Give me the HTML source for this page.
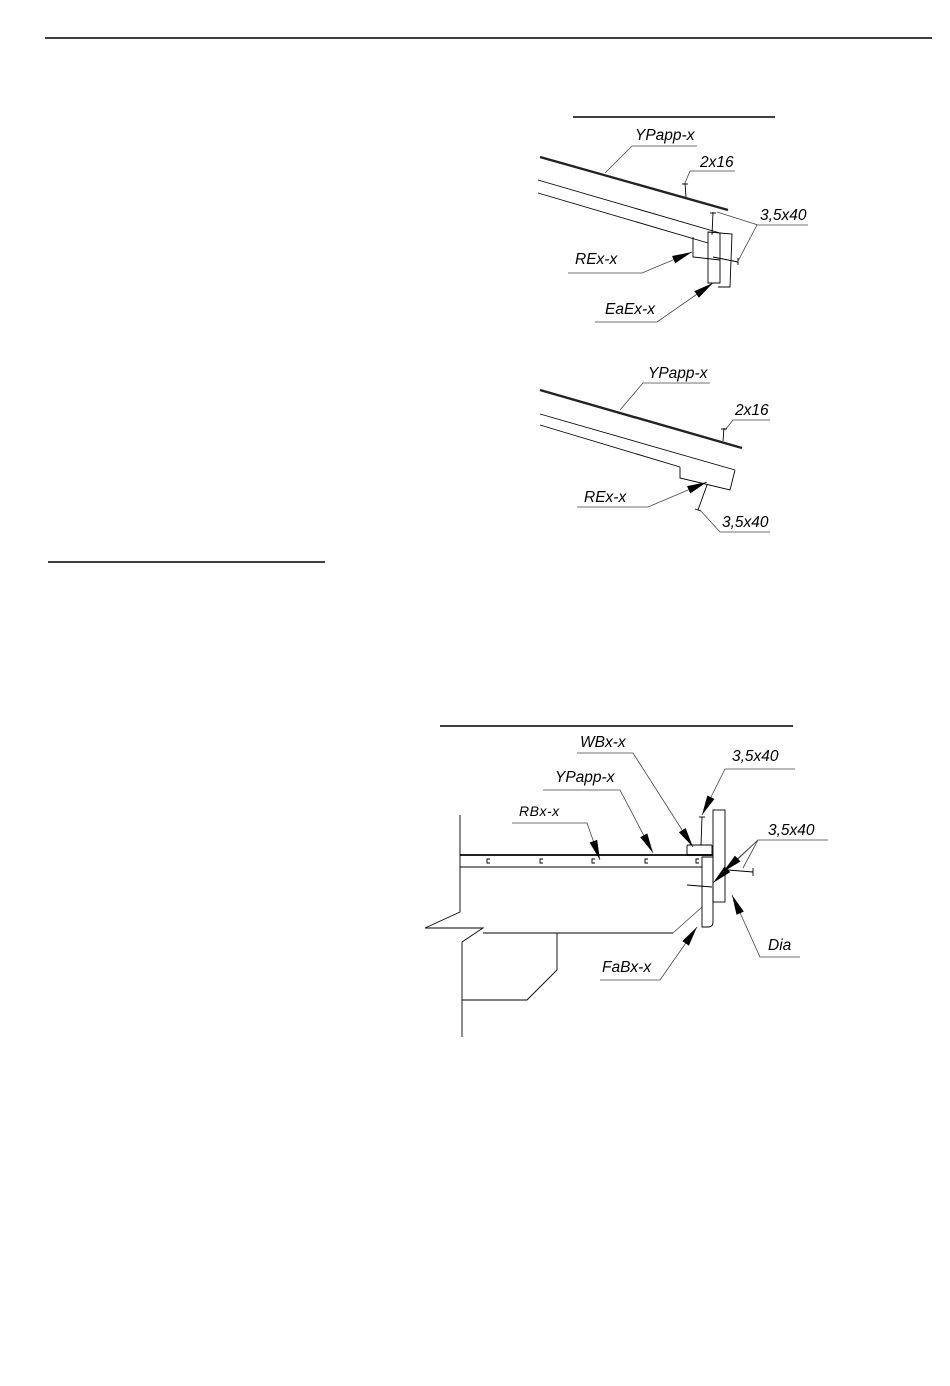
<!DOCTYPE html>
<html><head><meta charset="utf-8"><style>
html,body{margin:0;padding:0;background:#fff}
svg{display:block}
text{font-family:"Liberation Sans",sans-serif;font-style:italic;font-size:15.5px;fill:#000}
.l{stroke:#444;stroke-width:0.8;fill:none}
.k{stroke:#000;stroke-width:0.9;fill:none}
</style></head><body>
<svg width="950" height="1386" viewBox="0 0 950 1386" xmlns="http://www.w3.org/2000/svg">
<defs>
<marker id="a" markerWidth="22" markerHeight="10" refX="20" refY="5" orient="auto" markerUnits="userSpaceOnUse">
<path d="M0,1 L20,5 L0,9 Z" fill="#000"/>
</marker>
</defs>
<line x1="45" y1="38" x2="932" y2="38" stroke="#000" stroke-width="1.6"/>

<!-- Top detail 1 -->
<line x1="573" y1="117" x2="775" y2="117" stroke="#000" stroke-width="1.5"/>
<line x1="540" y1="157" x2="728" y2="210" stroke="#222" stroke-width="2.4"/>
<line x1="538" y1="180" x2="720" y2="233" class="k"/>
<line x1="538" y1="193" x2="708" y2="243" class="k"/>
<path d="M693,237 L693,257 L720,260" class="k"/>
<path d="M708,232 L720,233 L720,283 L708,283 Z" class="k"/>
<path d="M720,233 L732,234 L730,287 L718,287" class="k"/>
<line x1="717" y1="212" x2="758" y2="225" class="l"/>
<line x1="713" y1="212" x2="712" y2="235" class="k"/>
<line x1="710" y1="213" x2="716" y2="213" class="k"/>
<line x1="713" y1="257" x2="738" y2="262" class="k"/>
<line x1="738" y1="258" x2="738" y2="265" class="k"/>
<line x1="685" y1="183" x2="686" y2="197" class="k"/>
<line x1="682" y1="184" x2="688" y2="184" class="k"/>
<text x="635" y="140">YPapp-x</text>
<path d="M697,146 L632,146 L605,173" class="l"/>
<text x="700" y="167">2x16</text>
<path d="M735,171 L690,171 L685,183" class="l"/>
<text x="760" y="220">3,5x40</text>
<path d="M808,225 L757,225 L737,263" class="l"/>
<text x="575" y="264">REx-x</text>
<path d="M568,273 L642,273 L692,252" class="l" marker-end="url(#a)"/>
<text x="605" y="314">EaEx-x</text>
<path d="M595,322 L657,322 L713,283" class="l" marker-end="url(#a)"/>

<!-- Top detail 2 -->
<line x1="540" y1="390" x2="742" y2="448" stroke="#222" stroke-width="2.4"/>
<line x1="540" y1="414" x2="735" y2="470" class="k"/>
<line x1="540" y1="425" x2="680" y2="467" class="k"/>
<path d="M680,467 L680,478 L730,490 L735,470" class="k"/>
<line x1="724" y1="428" x2="723" y2="441" class="k"/>
<line x1="721" y1="429" x2="727" y2="429" class="k"/>
<line x1="707" y1="485" x2="698" y2="510" class="k"/>
<line x1="695" y1="509" x2="701" y2="511" class="k"/>
<text x="648" y="378">YPapp-x</text>
<path d="M710,383 L643,383 L620,410" class="l"/>
<text x="735" y="415">2x16</text>
<path d="M770,420 L733,420 L725,430" class="l"/>
<text x="584" y="502">REx-x</text>
<path d="M577,507 L648,507 L707,482" class="l" marker-end="url(#a)"/>
<text x="722" y="527">3,5x40</text>
<path d="M770,532 L720,532 L700,510" class="l"/>

<line x1="48" y1="562" x2="325" y2="562" stroke="#000" stroke-width="1.5"/>

<!-- Bottom detail -->
<line x1="440" y1="726" x2="793" y2="726" stroke="#000" stroke-width="1.5"/>
<line x1="460" y1="855" x2="713" y2="855" stroke="#222" stroke-width="2"/>
<line x1="460" y1="867" x2="702" y2="867" class="k"/>
<path d="M460,815 L460,912 L425,928 L483,928 L462,942 L462,1037" class="k"/>
<line x1="483" y1="933" x2="673" y2="933" class="k"/>
<path d="M557,933 L557,970 L527,1000 L462,1000" class="k"/>
<line x1="673" y1="933" x2="702" y2="907" class="l"/>
<g class="k">
<path d="M490,859 h-3 v4 h3"/><path d="M543,859 h-3 v4 h3"/><path d="M595,859 h-3 v4 h3"/><path d="M648,859 h-3 v4 h3"/><path d="M699,859 h-3 v4 h3"/>
</g>
<path d="M702,857 L713,857 L713,922 Q713,927 708,927 L702,927 Z" class="k"/>
<rect x="713" y="810" width="12" height="92" class="k"/>
<rect x="687" y="845" width="25" height="10" class="k" rx="1"/>
<line x1="702" y1="817" x2="701" y2="845" class="k"/>
<line x1="699" y1="817" x2="705" y2="817" class="k"/>
<line x1="687" y1="885" x2="712" y2="887" class="k"/>
<line x1="728" y1="870" x2="753" y2="872" class="k"/>
<line x1="753" y1="868" x2="753" y2="876" class="k"/>
<text x="580" y="747">WBx-x</text>
<path d="M577,753 L633,753 L693,847" class="l" marker-end="url(#a)"/>
<text x="732" y="761">3,5x40</text>
<path d="M795,769 L725,769 L702,815" class="l" marker-end="url(#a)"/>
<text x="555" y="782">YPapp-x</text>
<path d="M543,790 L620,790 L653,853" class="l" marker-end="url(#a)"/>
<text x="519" y="816" style="font-size:14px;letter-spacing:0.5px">RBx-x</text>
<path d="M512,823 L587,823 L600,860" class="l" marker-end="url(#a)"/>
<text x="768" y="835">3,5x40</text>
<path d="M828,840 L758,840 L713,883" class="l" marker-end="url(#a)"/>
<path d="M758,840 L723,872" class="l" marker-end="url(#a)"/>
<path d="M758,840 L743,868" class="l"/>
<text x="768" y="950">Dia</text>
<path d="M800,957 L760,957 L732,895" class="l" marker-end="url(#a)"/>
<text x="602" y="972">FaBx-x</text>
<path d="M600,980 L660,980 L697,927" class="l" marker-end="url(#a)"/>
</svg>
</body></html>
